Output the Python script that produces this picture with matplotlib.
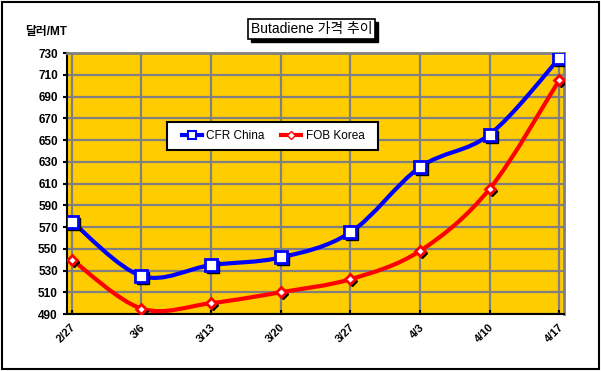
import matplotlib
matplotlib.use('Agg')
from matplotlib import pyplot as plt
from matplotlib.path import Path
from matplotlib.patches import PathPatch, Rectangle
import matplotlib.transforms as mtransforms
import numpy as np

dates = ['2/27', '3/6', '3/13', '3/20', '3/27', '4/3', '4/10', '4/17']
cfr_china = [575, 525, 535, 542, 565, 625, 655, 725]
fob_korea = [540, 495, 500, 510, 522, 548, 605, 705]

plt.rcParams['font.family'] = ['Liberation Sans', 'Noto Sans CJK KR']
plt.rcParams['font.weight'] = 'bold'


def smooth_path(xs, ys):
    """Excel-like smoothed line: cubic bezier through the points"""
    pts = np.column_stack([xs, ys]).astype(float)
    n = len(pts)
    verts = [pts[0]]
    codes = [Path.MOVETO]
    for i in range(n - 1):
        p_prev = pts[i - 1] if i > 0 else pts[i]
        p_next2 = pts[i + 2] if i + 2 < n else pts[i + 1]
        c1 = pts[i] + (pts[i + 1] - p_prev) / 6.0
        c2 = pts[i + 1] - (p_next2 - pts[i]) / 6.0
        verts += [c1, c2, pts[i + 1]]
        codes += [Path.CURVE4] * 3
    return Path(verts, codes)


fig = plt.figure(figsize=(6.01, 3.71), dpi=100)
fig.patches.append(Rectangle((0.004, 0.005), 0.992, 0.99, transform=fig.transFigure,
                             fill=False, edgecolor='black', linewidth=1.5))
ax = fig.add_axes([0.1115, 0.1536, 0.827, 0.7035])
ax.set_facecolor('#FFCC00')

x = np.arange(len(dates))
shadow = ax.transData + mtransforms.ScaledTranslation(2 / 100, -2 / 100, fig.dpi_scale_trans)

for vals, col, mk, ms in [(cfr_china, '#0000FF', 's', 8), (fob_korea, '#FF0000', 'D', 5)]:
    ax.add_patch(PathPatch(smooth_path(x, vals), facecolor='none', edgecolor=col,
                           linewidth=3, zorder=3))
    ax.plot(x, vals, linestyle='none', marker=mk, markersize=ms, color='black',
            transform=shadow, zorder=4)
    ax.plot(x, vals, linestyle='none', marker=mk, markersize=ms, markerfacecolor='white',
            markeredgecolor=col, markeredgewidth=2, zorder=5)

# legend: frame drawn by hand so the box can be wider than the entries need
ax.add_patch(Rectangle((0.201, 0.628), 0.425, 0.108, transform=ax.transAxes,
                       facecolor='white', edgecolor='black', linewidth=1.5, zorder=6))
h1, = ax.plot([], [], color='#0000FF', linewidth=3, marker='s', markersize=6,
              markerfacecolor='white', markeredgecolor='#0000FF', markeredgewidth=1.5)
h2, = ax.plot([], [], color='#FF0000', linewidth=3, marker='D', markersize=4,
              markerfacecolor='white', markeredgecolor='#FF0000', markeredgewidth=1)
leg = ax.legend([h1, h2], ['CFR China', 'FOB Korea'], ncol=2, loc='center',
                bbox_to_anchor=(0.415, 0.682), frameon=False,
                handlelength=1.7, handletextpad=0.35, columnspacing=1.4,
                prop={'size': 8.5, 'weight': 'normal'})
leg.set_zorder(7)

ax.set_xlim(-0.07, 7.07)
ax.set_ylim(490, 730)
ax.set_yticks(np.arange(490, 731, 20))
ax.set_xticks(x)
ax.set_xticklabels(dates, rotation=45, fontsize=8, ha='right', rotation_mode='anchor')
ax.tick_params(axis='y', labelsize=8.5, length=3, width=1.5, direction='out')
ax.tick_params(axis='x', length=3, width=1.5, direction='in', pad=6)
for lbl in ax.get_xticklabels():
    lbl.set_transform(lbl.get_transform() + mtransforms.ScaledTranslation(-0.01, 0, fig.dpi_scale_trans))
ax.grid(True, color='#808080', linewidth=1.6)
ax.set_axisbelow(True)
for side in ['top', 'right']:
    ax.spines[side].set_color('#808080')
    ax.spines[side].set_linewidth(2)
for side in ['left', 'bottom']:
    ax.spines[side].set_color('black')
    ax.spines[side].set_linewidth(1.5)

fig.text(0.042, 0.905, '달러/MT', fontsize=8.5, weight='bold')

title = fig.text(0.519, 0.922, 'Butadiene 가격 추이', ha='center', va='center',
                 fontsize=10, weight='normal', zorder=5,
                 bbox=dict(facecolor='white', edgecolor='black', linewidth=1.2,
                           boxstyle='square,pad=0.2'))
fig.canvas.draw()
bb = title.get_bbox_patch().get_window_extent()
fig.patches.append(Rectangle((bb.x0 + 3, bb.y0 - 3), bb.width, bb.height,
                             transform=None, facecolor='black', edgecolor='black', zorder=4))

fig.savefig('out.png', dpi=100)
